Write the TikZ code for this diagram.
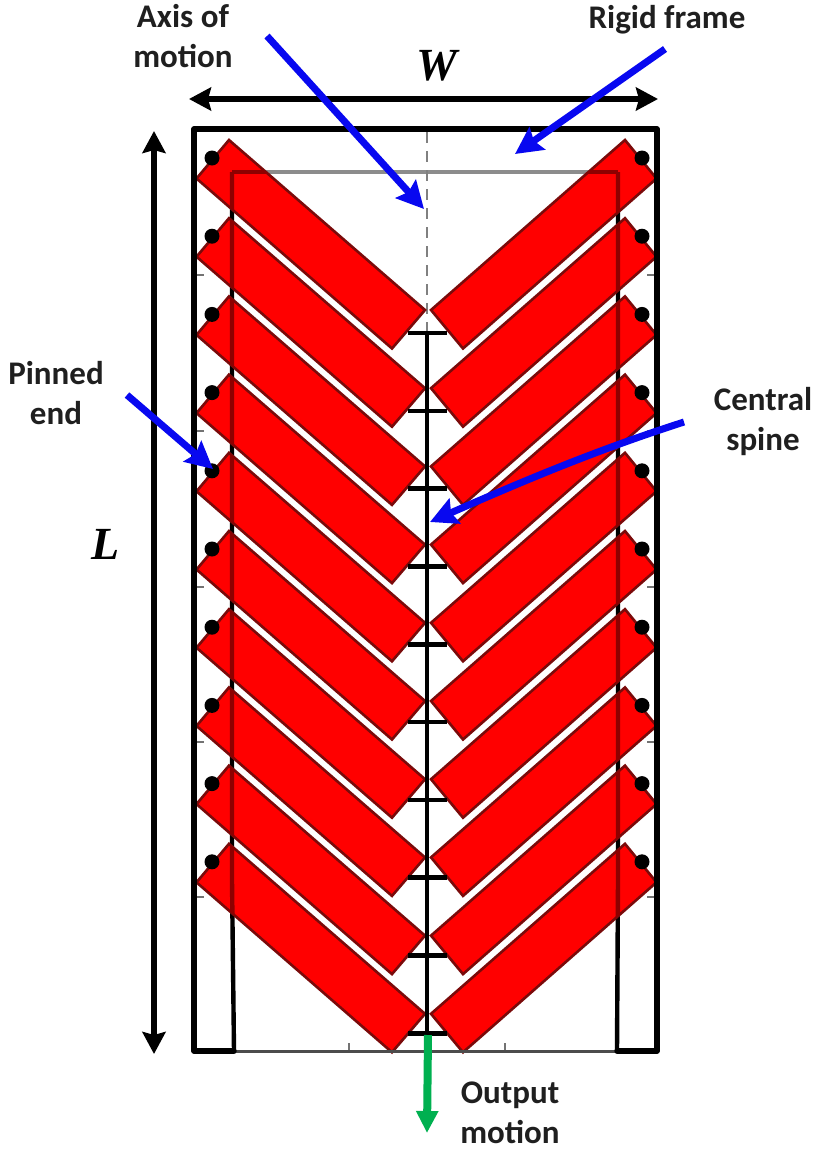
\documentclass[tikz,border=0pt]{standalone}
\usepackage{fontspec}
\setmainfont{Carlito}
\newfontfamily\mathlike{Liberation Serif}
\usetikzlibrary{arrows.meta}
\definecolor{barred}{HTML}{FF0000}
\definecolor{edgered}{HTML}{7A0A0A}
\definecolor{darkline}{HTML}{8E0000}
\definecolor{callout}{HTML}{0808F0}
\definecolor{outgreen}{HTML}{00B050}
\tikzset{
  x=1pt,y=-1pt,
  label text/.style={font=\fontsize{33}{40}\selectfont\bfseries,text=black!88,inner sep=0pt,align=center},
  dim text/.style={font=\mathlike\fontsize{46}{46}\selectfont\bfseries\itshape,inner sep=0pt},
  bar/.style={fill=barred,draw=edgered,line width=2.6pt,line join=miter},
  frame line/.style={draw=black,line width=5.4pt,line join=round,line cap=round},
  inner black/.style={draw=black,line width=4.4pt},
  inner gray/.style={draw=black!45,line width=4pt},
  on red/.style={draw=darkline,line width=4.4pt},
  spine line/.style={draw=black,line width=4.6pt},
  dim arrow/.style={draw=black,line width=6pt,{Stealth[length=22pt,width=23pt,inset=3pt]}-{Stealth[length=22pt,width=23pt,inset=3pt]}},
  blue arrow/.style={draw=callout,line width=7pt,-{Stealth[length=27pt,width=27pt,inset=4pt]}},
  green arrow/.style={draw=outgreen,line width=8pt,-{Triangle[length=22pt,width=21pt]}},
  pin/.style={circle,fill=black,minimum size=15pt,inner sep=0pt},
  tickmark/.style={draw=black!55,line width=1.5pt},
}
\newcommand{\barL}{(229,140) -- (425,310) -- (392,348.5) -- (196.5,178.5) -- cycle}
\newcommand{\barR}{(625,140) -- (431,310) -- (463,348.5) -- (656.5,178.5) -- cycle}
\begin{document}
\begin{tikzpicture}
\useasboundingbox[fill=white] (0,0) rectangle (825,1157);
% inner frame, under the bars
\coordinate (ia) at (232,172);
\coordinate (ib) at (618,172);
\coordinate (ic) at (232,880);
\coordinate (id) at (618,880);
\coordinate (ie) at (234,1051);
\coordinate (if) at (617,1051);
\draw[inner gray] (ia) -- (ib);
\draw[inner black] (ia) -- (ic) -- (ie);
\draw[inner black] (ib) -- (id) -- (if);
% scale ticks
\foreach \ty in {275,431,587,742,897}{
  \draw[tickmark] (194,\ty) -- (204,\ty);
  \draw[tickmark] (657,\ty) -- (647,\ty);
}
\draw[tickmark] (349,1051) -- (349,1043);
\draw[tickmark] (505,1051) -- (505,1043);
% axis
\coordinate (axt) at (427,132);
\coordinate (axb) at (427,333);
\draw[draw=black!50,line width=1.8pt,dash pattern=on 11pt off 8pt] (axt) -- (axb);
% bars
\foreach \i in {0,...,9}{
  \begin{scope}[yshift=-78.2*\i pt]
    \draw[bar] \barL;
    \draw[bar] \barR;
  \end{scope}
  \begin{scope}
    \clip[yshift=-78.2*\i pt] \barL;
    \draw[on red] (ia) -- (ib);
    \draw[on red] (ia) -- (ic) -- (ie);
  \end{scope}
  \begin{scope}
    \clip[yshift=-78.2*\i pt] \barR;
    \draw[on red] (ia) -- (ib);
    \draw[on red] (ib) -- (id) -- (if);
  \end{scope}
}
% pins
\foreach \i in {0,...,9}{
  \node[pin] (pl\i) at (212,158+78.2*\i) {};
  \node[pin] (pr\i) at (642,158+78.2*\i) {};
}
% outer frame
\coordinate (fa) at (194,129);
\coordinate (fb) at (657,129);
\coordinate (fc) at (657,1051);
\coordinate (fd) at (194,1051);
\draw[draw=black!70,line width=3pt] (ie) -- (if);
\draw[frame line] (ie) -- (fd) -- (fa) -- (fb) -- (fc) -- (if);
% spine
\coordinate (st) at (427,333);
\coordinate (sb) at (427,1033);
\draw[spine line] (st) -- (sb);
\foreach \i in {0,...,9}{
  \coordinate (tl\i) at (408,333+77.8*\i);
  \coordinate (tr\i) at (447,333+77.8*\i);
  \draw[spine line] (tl\i) -- (tr\i);
}
% dimension arrows
\coordinate (wl) at (189,99);
\coordinate (wr) at (658,99);
\coordinate (lt) at (154,131);
\coordinate (lb) at (154,1054);
\draw[dim arrow] (wl) -- (wr);
\draw[dim arrow] (lt) -- (lb);
\node[dim text] (wlab) at (437,66) {W};
\node[dim text] (llab) at (106,544) {L};
% labels
\node[label text] (axis) at (183,36) {Axis of\\motion};
\node[label text] (rigid) at (667,20) {Rigid frame};
\node[label text] (pinned) at (56,393) {Pinned\\end};
\node[label text] (central) at (763,422) {Central\\spine};
\node[label text] (output) at (510,1113) {Output\\motion};
% callouts
\coordinate (a0) at (267,36);
\coordinate (a1) at (424,209);
\coordinate (r0) at (665,49);
\coordinate (r1) at (515,154);
\coordinate (p0) at (127,395);
\coordinate (p1) at (213,469);
\coordinate (c0) at (684,422);
\coordinate (c1) at (430,522);
\coordinate (g0) at (428,1035);
\coordinate (g1) at (427,1133);
\draw[blue arrow] (a0) -- (a1);
\draw[blue arrow] (r0) -- (r1);
\draw[blue arrow] (p0) -- (p1);
\draw[blue arrow] (c0) .. controls (600,449) and (530,478) .. (c1);
\draw[green arrow] (g0) -- (g1);
\end{tikzpicture}
\end{document}
